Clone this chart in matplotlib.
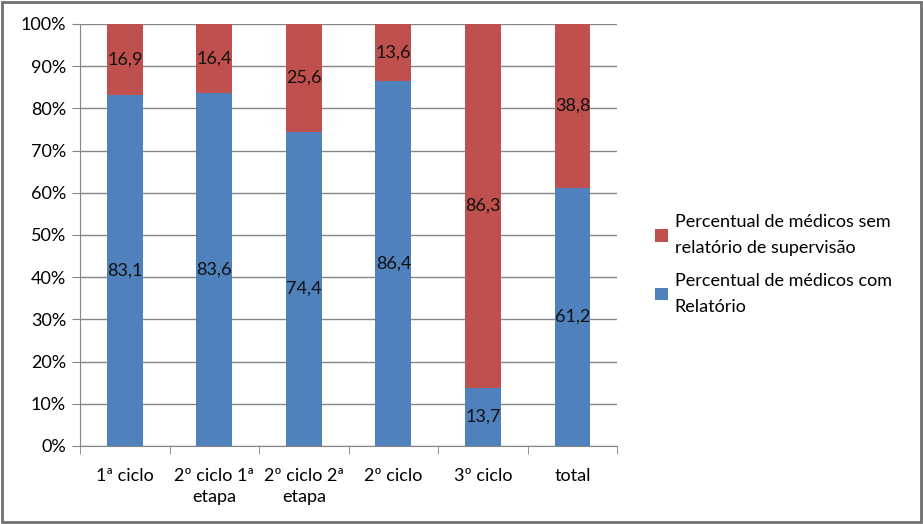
import matplotlib.pyplot as plt
import numpy as np
from matplotlib.patches import Rectangle

categories = ["1ª ciclo", "2º ciclo 1ª\netapa", "2º ciclo 2ª\netapa", "2º ciclo", "3º ciclo", "total"]
com_relatorio = [83.1, 83.6, 74.4, 86.4, 13.7, 61.2]
sem_relatorio = [16.9, 16.4, 25.6, 13.6, 86.3, 38.8]
yticks = [0, 10, 20, 30, 40, 50, 60, 70, 80, 90, 100]

BLUE = "#4F81BD"
RED = "#C0504D"
GRID = "#868686"

plt.rcParams['font.family'] = ['Lato', 'DejaVu Sans']

fig = plt.figure(figsize=(9.23, 5.24), dpi=100)
ax = fig.add_axes([0.0867, 0.1489, 0.582, 0.8053])

x = np.arange(len(categories))
b1 = ax.bar(x, com_relatorio, width=0.4, color=BLUE, zorder=3,
            label="Percentual de médicos com\nRelatório")
b2 = ax.bar(x, sem_relatorio, width=0.4, bottom=com_relatorio, color=RED, zorder=3,
            label="Percentual de médicos sem\nrelatório de supervisão")

for i in range(len(x)):
    ax.text(x[i], com_relatorio[i] / 2, ("%.1f" % com_relatorio[i]).replace(".", ","),
            ha="center", va="center", fontsize=13, color="#111111", zorder=4)
    ax.text(x[i], com_relatorio[i] + sem_relatorio[i] / 2,
            ("%.1f" % sem_relatorio[i]).replace(".", ","),
            ha="center", va="center", fontsize=13, color="#111111", zorder=4)

ax.set_xlim(-0.5, len(categories) - 0.5)
ax.set_ylim(0, 100)
ax.set_yticks(yticks)
ax.set_yticklabels(["%d%%" % v for v in yticks], fontsize=13)
ax.yaxis.grid(True, color=GRID, linewidth=1, zorder=0)

ax.set_xticks(x)
ax.set_xticklabels(categories, fontsize=13, linespacing=1.4)
ax.tick_params(axis="x", length=0, pad=16)
ax.set_xticks(np.arange(len(categories) + 1) - 0.5, minor=True)
ax.tick_params(axis="x", which="minor", length=6, color=GRID, direction="out")
ax.tick_params(axis="y", length=6, color=GRID, direction="out", pad=4)

for s in ["top", "right"]:
    ax.spines[s].set_visible(False)
ax.spines["left"].set_color(GRID)
ax.spines["bottom"].set_color(GRID)

handles = [b2, b1]
leg = fig.legend(handles, [h.get_label() for h in handles], loc="center left",
                 bbox_to_anchor=(0.692, 0.495), frameon=False, fontsize=13,
                 handlelength=0.7, handleheight=0.7, handletextpad=0.4,
                 labelspacing=0.9)
for t in leg.get_texts():
    t.set_linespacing(1.8)

fig.patches.append(Rectangle((0.002, 0.003), 0.996, 0.994, transform=fig.transFigure,
                             fill=False, edgecolor="#707070", linewidth=2))

fig.savefig("out.png", dpi=100)
